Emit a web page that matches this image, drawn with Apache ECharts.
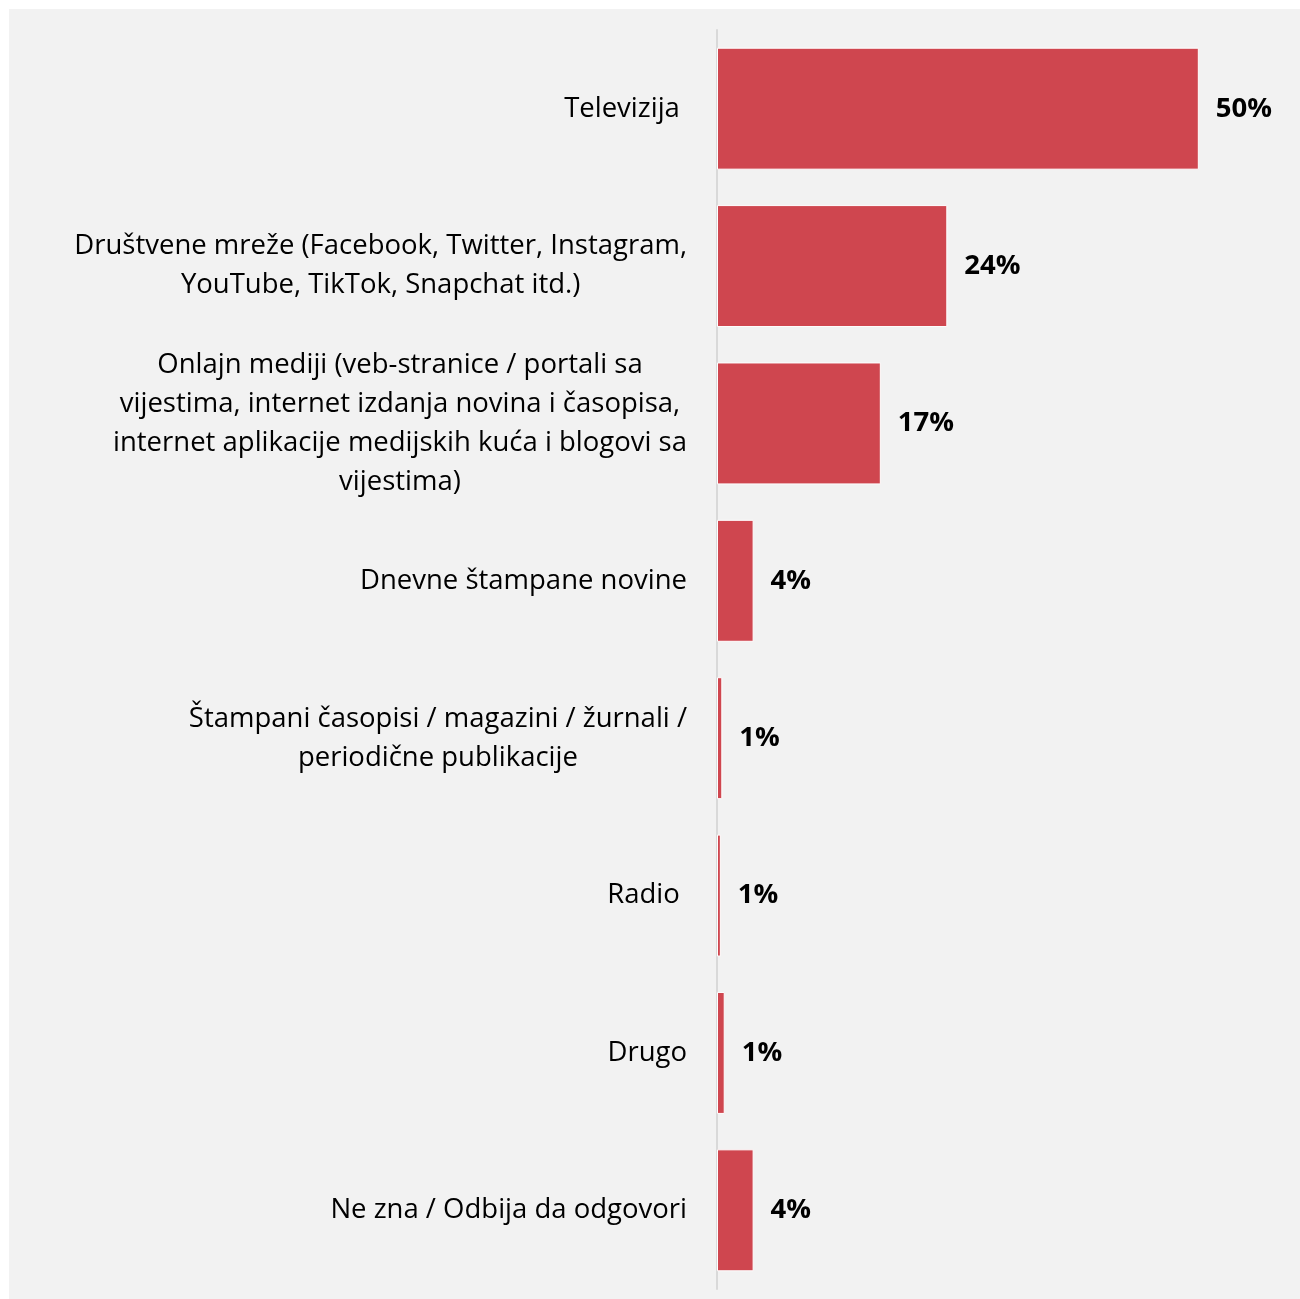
<!DOCTYPE html>
<html>
<head>
<meta charset="utf-8">
<script src="https://cdn.jsdelivr.net/npm/echarts@6/dist/echarts.min.js"></script>
<style>
  html, body { margin: 0; padding: 0; background: #ffffff; }
  #chart { position: absolute; left: 9px; top: 9px; width: 1291px; height: 1290px; }
</style>
</head>
<body>
<div id="chart"></div>
<script>
// Categories (top to bottom)
const categories = [
  "Televizija ",
  "Društvene mreže (Facebook, Twitter, Instagram,\nYouTube, TikTok, Snapchat itd.)",
  "Onlajn mediji (veb-stranice / portali sa\nvijestima, internet izdanja novina i časopisa,\ninternet aplikacije medijskih kuća i blogovi sa\nvijestima)",
  "Dnevne štampane novine",
  "Štampani časopisi / magazini / žurnali /\nperiodične publikacije",
  "Radio ",
  "Drugo",
  "Ne zna / Odbija da odgovori"
];
// Bar lengths (percent)
const values = [50, 23.9, 17.0, 3.8, 0.55, 0.4, 0.8, 3.8];
// Printed labels (rounded percent)
const labelValues = [50, 24, 17, 4, 1, 1, 1, 4];

const FONT = "'Open Sans', 'Noto Sans', sans-serif";
const chart = echarts.init(document.getElementById('chart'), null, { renderer: 'canvas' });

chart.setOption({
  backgroundColor: '#f2f2f2',
  animation: false,
  grid: { left: 708, top: 21, bottom: 10, right: 53, containLabel: false },
  xAxis: {
    type: 'value', min: 0, max: 55,
    show: false
  },
  yAxis: {
    type: 'category',
    inverse: true,
    data: categories,
    axisLine: { show: true, lineStyle: { color: '#d9d9d9', width: 2 } },
    axisTick: { show: false },
    splitLine: { show: false },
    axisLabel: {
      margin: 30,
      align: 'right',
      formatter: function (v) {
        return v.split('\n').map(function (l) { return '{c|' + l + '}'; }).join('\n');
      },
      rich: {
        c: { align: 'center', fontFamily: FONT, fontSize: 27.5, lineHeight: 39, color: '#000' }
      }
    }
  },
  series: [{
    type: 'bar',
    data: values,
    barWidth: '77.5%',
    itemStyle: { color: '#CF464F', borderColor: '#ffffff', borderWidth: 1 },
    label: {
      show: true,
      position: 'right',
      distance: 17,
      fontFamily: FONT,
      fontWeight: 'bold',
      fontSize: 27.5,
      color: '#000',
      formatter: function (p) { return labelValues[p.dataIndex] + '%'; }
    }
  }]
});
</script>
</body>
</html>
